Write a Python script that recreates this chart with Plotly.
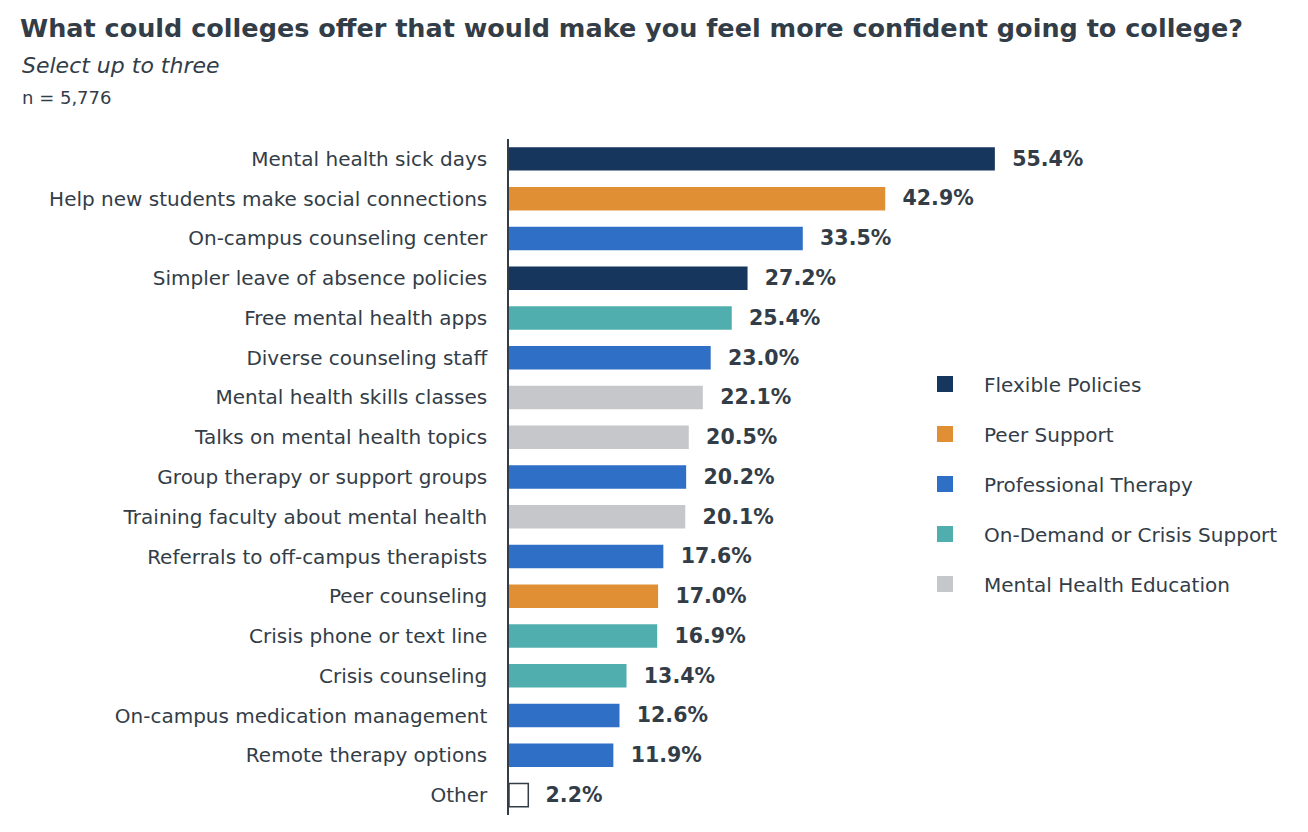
import plotly.graph_objects as go

# top-to-bottom order as in the chart
options = [
    "Mental health sick days",
    "Help new students make social connections",
    "On-campus counseling center",
    "Simpler leave of absence policies",
    "Free mental health apps",
    "Diverse counseling staff",
    "Mental health skills classes",
    "Talks on mental health topics",
    "Group therapy or support groups",
    "Training faculty about mental health",
    "Referrals to off-campus therapists",
    "Peer counseling",
    "Crisis phone or text line",
    "Crisis counseling",
    "On-campus medication management",
    "Remote therapy options",
    "Other",
]
pct = [55.4, 42.9, 33.5, 27.2, 25.4, 23.0, 22.1, 20.5, 20.2, 20.1,
       17.6, 17.0, 16.9, 13.4, 12.6, 11.9, 2.2]
group = ["Flexible Policies", "Peer Support", "Professional Therapy", "Flexible Policies",
         "On-Demand or Crisis Support", "Professional Therapy", "Mental Health Education",
         "Mental Health Education", "Professional Therapy", "Mental Health Education",
         "Professional Therapy", "Peer Support", "On-Demand or Crisis Support",
         "On-Demand or Crisis Support", "Professional Therapy", "Professional Therapy", "Other"]

groups = ["Flexible Policies", "Peer Support", "Professional Therapy",
          "On-Demand or Crisis Support", "Mental Health Education"]
colors = {
    "Flexible Policies": "#17365d",
    "Peer Support": "#e08f35",
    "Professional Therapy": "#2f6fc6",
    "On-Demand or Crisis Support": "#50afae",
    "Mental Health Education": "#c6c7cb",
    "Other": "#ffffff",
}

FONT = "Verdana, DejaVu Sans, sans-serif"
TXT = "#333d47"

# page body has an 8px margin, so the figure is drawn 8px smaller
W, H = 1300, 824
L, T, B, R = 501, 131, 17, 15
PW = W - L - R       # plot width in px
PH = H - T - B       # plot height in px

fig = go.Figure()

for g in groups + ["Other"]:
    ys = [o for o, gg in zip(options, group) if gg == g]
    xs = [p for p, gg in zip(pct, group) if gg == g]
    fig.add_trace(go.Bar(
        x=xs, y=ys, orientation="h",
        marker=dict(color=colors[g],
                    line=dict(color=TXT if g == "Other" else colors[g],
                              width=1.5 if g == "Other" else 0)),
        width=0.59,
        text=["\u00a0\u00a0" + f"{v:.1f}%" for v in xs],
        textposition="outside", cliponaxis=False,
        textfont=dict(family=FONT, size=21, color=TXT, weight="bold"),
        showlegend=False, hoverinfo="x+y",
    ))

# legend entries (bigger square markers than the bar defaults)
for g in groups:
    fig.add_trace(go.Scatter(
        x=[None], y=[None], mode="markers", name=g, legendgroup=g,
        marker=dict(symbol="square", size=18, color=colors[g]),
    ))

fig.update_layout(
    width=W, height=H,
    margin=dict(l=L, r=R, t=T, b=B),
    paper_bgcolor="white", plot_bgcolor="white",
    barmode="relative",
    font=dict(family=FONT, size=20, color=TXT),
    title=dict(
        text="<b>What could colleges offer that would make you feel more confident going to college?</b>",
        x=12 / W, xanchor="left", y=1 - 20 / H, yanchor="middle",
        font=dict(family=FONT, size=25.5, color=TXT),
    ),
    xaxis=dict(range=[0, PW / 8.77], visible=False, fixedrange=True),
    yaxis=dict(
        categoryorder="array", categoryarray=options, range=[16.5, -0.5],
        showline=True, linecolor=TXT, linewidth=1.5, showgrid=False,
        ticks="", ticklabelstandoff=16, tickfont=dict(family=FONT, size=20, color=TXT),
    ),
    legend=dict(
        x=(898 - L) / PW, xanchor="left", y=(799 - 468) / PH, yanchor="middle",
        traceorder="grouped", tracegroupgap=21, itemwidth=68,
        font=dict(family=FONT, size=20, color=TXT), bgcolor="rgba(0,0,0,0)",
    ),
    annotations=[
        dict(text="<i>Select up to three</i>", xref="paper", yref="paper",
             x=(12 - L) / PW, y=(799 - 49) / PH, xanchor="left", yanchor="middle",
             showarrow=False, font=dict(family=FONT, size=22, color=TXT)),
        dict(text="n = 5,776", xref="paper", yref="paper",
             x=(12 - L) / PW, y=(799 - 81) / PH, xanchor="left", yanchor="middle",
             showarrow=False, font=dict(family=FONT, size=18, color=TXT)),
    ],
)

fig.write_html("out.html")
